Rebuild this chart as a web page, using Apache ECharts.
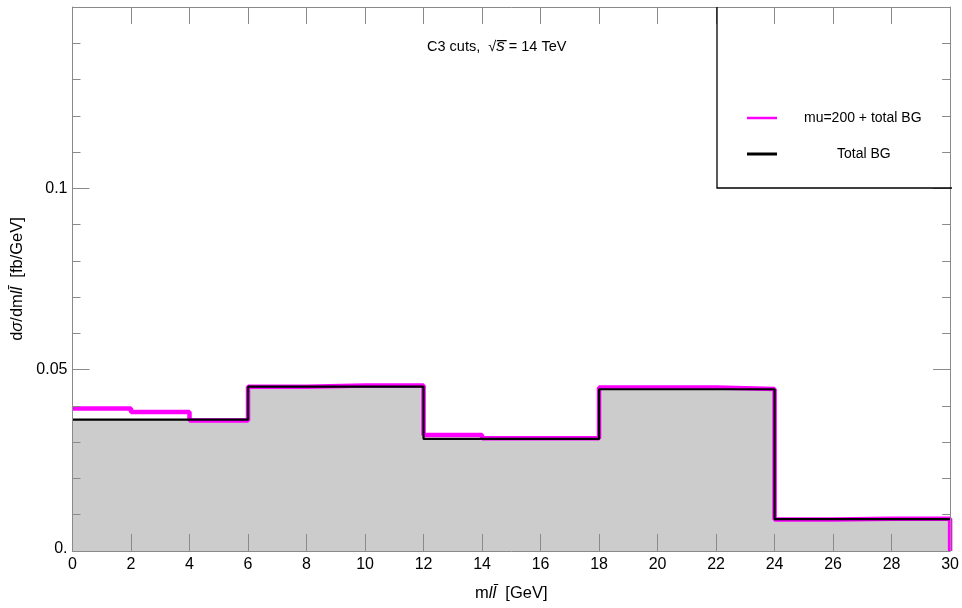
<!DOCTYPE html>
<html>
<head>
<meta charset="utf-8">
<script src="https://cdn.jsdelivr.net/npm/echarts@6/dist/echarts.min.js"></script>
<style>
html,body{margin:0;padding:0;background:#fff;}
#chart{width:962px;height:608px;}
</style>
</head>
<body>
<div id="chart"></div>
<script>
// ---- data ----
const bgEdges = [0, 6, 12, 18, 24, 30];
const totalBG = [0.0362, 0.0453, 0.0309, 0.0446, 0.0088];
const sigEdges = [0, 2, 4, 6, 8, 10, 12, 14, 16, 18, 20, 22, 24, 26, 28, 30];
const sigPlusBG = [0.0393, 0.0383, 0.0360, 0.0453, 0.0456, 0.0456, 0.0320, 0.0311, 0.0311, 0.0451, 0.0451, 0.0447, 0.0087, 0.0089, 0.0089];
const xTicks = [0, 2, 4, 6, 8, 10, 12, 14, 16, 18, 20, 22, 24, 26, 28, 30];
const yTickLabels = {0: '0.', 0.05: '0.05', 0.1: '0.1'};
const seriesNames = ['mu=200 + total BG', 'Total BG'];

function stepPoints(edges, vals, dropAtEnd) {
  const pts = vals.map((v, i) => [edges[i], v]);
  pts.push([edges[edges.length - 1], vals[vals.length - 1]]);
  if (dropAtEnd) pts.push([edges[edges.length - 1], 0]);
  return pts;
}

const FONT = 'Liberation Sans, Arial, Helvetica, sans-serif';
const AX = '#8a8a8a';

const chart = echarts.init(document.getElementById('chart'), null, {renderer: 'canvas'});

const yLabelFmt = v => {
  const key = Math.round(v * 100) / 100;
  if (key === 0) return '{z|0.}';
  return yTickLabels[key] !== undefined ? yTickLabels[key] : '';
};

const axisCommon = {
  axisLine: {show: true, onZero: false, lineStyle: {color: AX, width: 1}},
  axisTick: {show: true, inside: true, length: 17, lineStyle: {color: AX}},
  splitLine: {show: false}
};

const option = {
  animation: false,
  backgroundColor: '#fff',
  textStyle: {fontFamily: FONT},
  title: {
    text: 'C3 cuts,  √{i|s̅} = 14 TeV',
    left: 422, top: 33,
    textStyle: {
      fontFamily: FONT, fontSize: 14.5, fontWeight: 'normal', color: '#000',
      rich: {i: {fontFamily: FONT, fontSize: 17, fontStyle: 'italic', color: '#000'}}
    }
  },
  grid: {left: 72.5, right: 10, top: 7, bottom: 57, containLabel: false},
  legend: [
    {
      data: [{name: seriesNames[0], icon: 'rect', itemStyle: {color: '#ff00ff'}}],
      left: 742, top: 106, itemWidth: 30, itemHeight: 2.5,
      selectedMode: false,
      textStyle: {fontFamily: FONT, fontSize: 14, color: '#000', padding: [0, 0, 0, 22]}
    },
    {
      data: [{name: seriesNames[1], icon: 'rect', itemStyle: {color: '#000'}}],
      left: 742, top: 142, itemWidth: 30, itemHeight: 3,
      selectedMode: false,
      textStyle: {fontFamily: FONT, fontSize: 14, color: '#000', padding: [0, 0, 0, 55]}
    }
  ],
  xAxis: [
    Object.assign({}, axisCommon, {
      type: 'value', min: 0, max: 30, interval: 2, position: 'bottom', z: 5,
      name: 'm{i|l}{i|l̄}  [GeV]', nameLocation: 'middle', nameGap: 34,
      nameTextStyle: {fontFamily: FONT, fontSize: 16.5, color: '#000',
        rich: {i: {fontFamily: FONT, fontSize: 16.5, fontStyle: 'italic', color: '#000'}}},
      axisLabel: {fontFamily: FONT, fontSize: 16, color: '#000', margin: 6,
        formatter: v => xTicks.includes(v) ? String(v) : ''}
    }),
    Object.assign({}, axisCommon, {
      type: 'value', min: 0, max: 30, interval: 2, position: 'top', z: 5,
      axisLabel: {show: false}
    })
  ],
  yAxis: [
    Object.assign({}, axisCommon, {
      type: 'value', min: 0, max: 0.15, interval: 0.05, position: 'left', z: 5,
      name: 'd{i|σ}/dm{i|l}{i|l̄}  [fb/GeV]', nameLocation: 'middle', nameGap: 44,
      nameTextStyle: {fontFamily: FONT, fontSize: 16.5, color: '#000',
        rich: {i: {fontFamily: FONT, fontSize: 16.5, fontStyle: 'italic', color: '#000'}}},
      minorTick: {show: true, splitNumber: 5, length: 8, lineStyle: {color: AX}},
      axisLabel: {fontFamily: FONT, fontSize: 16, color: '#000', margin: 5, showMaxLabel: false,
        formatter: yLabelFmt,
        rich: {z: {fontFamily: FONT, fontSize: 16, color: '#000', padding: [0, 0, 4, 0]}}},
      minorSplitLine: {show: false}
    }),
    Object.assign({}, axisCommon, {
      type: 'value', min: 0, max: 0.15, interval: 0.05, position: 'right', z: 5,
      minorTick: {show: true, splitNumber: 5, length: 8, lineStyle: {color: AX}},
      axisLabel: {show: false}
    })
  ],
  graphic: [
    {
      type: 'polyline', z: 100,
      shape: {points: [[717, 7], [717, 188], [952, 188]]},
      style: {stroke: '#000', lineWidth: 1.3, fill: null}
    }
  ],
  series: [
    {
      name: 'bgFill', type: 'line', step: 'end', symbol: 'none',
      data: stepPoints(bgEdges, totalBG, false),
      lineStyle: {width: 0, opacity: 0},
      areaStyle: {color: '#cccccc', opacity: 1},
      z: 1, silent: true
    },
    {
      name: seriesNames[0], type: 'line', step: 'end', symbol: 'none',
      data: stepPoints(sigEdges, sigPlusBG, true),
      lineStyle: {color: '#ff00ff', width: 4.5},
      itemStyle: {color: '#ff00ff'},
      z: 2
    },
    {
      name: seriesNames[1], type: 'line', step: 'end', symbol: 'none',
      data: stepPoints(bgEdges, totalBG, false),
      lineStyle: {color: '#000', width: 2.2},
      itemStyle: {color: '#000'},
      z: 3
    }
  ]
};
chart.setOption(option);
</script>
</body>
</html>
